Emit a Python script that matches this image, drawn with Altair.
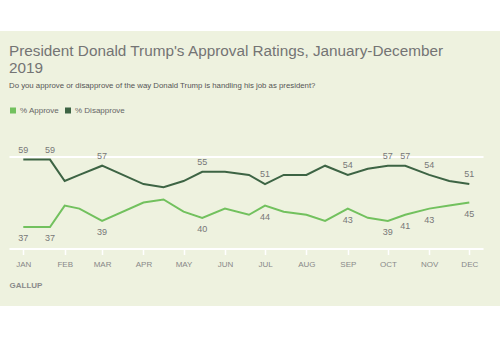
import altair as alt
import pandas as pd

# ---- data ----
dates = ["2019-01-01", "2019-01-21", "2019-02-01", "2019-02-12", "2019-03-01",
         "2019-04-01", "2019-04-16", "2019-05-01", "2019-05-15", "2019-06-01",
         "2019-06-19", "2019-07-01", "2019-07-15", "2019-08-01", "2019-08-15",
         "2019-09-01", "2019-09-16", "2019-10-01", "2019-10-14", "2019-11-01",
         "2019-11-16", "2019-12-01"]
approve = [37, 37, 44, 43, 39, 45, 46, 42, 40, 43, 41, 44, 42, 41, 39, 43, 40, 39, 41, 43, 44, 45]
disapprove = [59, 59, 52, 54, 57, 51, 50, 52, 55, 55, 54, 51, 54, 54, 57, 54, 56, 57, 57, 54, 52, 51]
labeled_dates = ["2019-01-01", "2019-01-21", "2019-03-01", "2019-05-15", "2019-07-01",
                 "2019-09-01", "2019-10-01", "2019-10-14", "2019-11-01", "2019-12-01"]
series_names = ["% Approve", "% Disapprove"]
series_colors = ["#72c15e", "#3d6444"]
month_ticks = list(range(1, 13))
y_grid = [30, 40, 50, 60]

title_lines = ["President Donald Trump's Approval Ratings, January-December", "2019"]
subtitle = "Do you approve or disapprove of the way Donald Trump is handling his job as president?"
source = "GALLUP"

rows = []
for d, a, s in zip(dates, approve, disapprove):
    rows.append({"date": d, "series": series_names[0], "value": a,
                 "label": str(a) if d in labeled_dates else ""})
    rows.append({"date": d, "series": series_names[1], "value": s,
                 "label": str(s) if d in labeled_dates else ""})
df = pd.DataFrame(rows)

BG = "#eef2df"
FONT = "Liberation Sans"

x_enc = alt.X(
    "date:T",
    scale=alt.Scale(type="utc",
                    domain=[alt.DateTime(year=2018, month=12, date=21, hours=7, utc=True),
                            alt.DateTime(year=2019, month=12, date=11, hours=6, utc=True)]),
    axis=alt.Axis(
        values=[alt.DateTime(year=2019, month=m, date=1, utc=True) for m in month_ticks],
        labelExpr="upper(utcFormat(datum.value, '%b'))",
        domain=False, grid=False,
        ticks=True, tickColor="white", tickSize=6, tickWidth=1.5,
        labelFont=FONT, labelFontSize=8, labelColor="#888888", labelPadding=6,
        title=source, titleFont=FONT, titleFontSize=8, titleFontWeight="bold",
        titleColor="#8a8a8a", titleX=0, titleY=37, titleAlign="left",
        titleBaseline="middle", titleAnchor="start",
    ),
)
y_enc = alt.Y(
    "value:Q",
    scale=alt.Scale(domain=[30, 60], zero=False, nice=False),
    axis=alt.Axis(values=y_grid, grid=True, gridColor="white", gridWidth=2,
                  labels=False, ticks=False, domain=False, title=None),
)
color_enc = alt.Color(
    "series:N",
    scale=alt.Scale(domain=series_names, range=series_colors),
    legend=alt.Legend(orient="none", legendX=0, legendY=-50, direction="horizontal",
                      title=None, symbolType="square", symbolSize=9,
                      symbolStrokeWidth=3, labelFont=FONT, labelFontSize=8,
                      labelColor="#666666", labelOffset=3, columnPadding=0,
                      gridAlign="none"),
)

base = alt.Chart(df)

lines = base.mark_line(strokeWidth=2).encode(x=x_enc, y=y_enc, color=color_enc)

labels_dis = base.transform_filter(
    (alt.datum.series == series_names[1]) & (alt.datum.label != "")
).mark_text(font=FONT, fontSize=9, color="#777777", dy=-10).encode(
    x=alt.X("date:T"), y=alt.Y("value:Q"), text="label:N")

labels_app = base.transform_filter(
    (alt.datum.series == series_names[0]) & (alt.datum.label != "")
).mark_text(font=FONT, fontSize=9, color="#777777", dy=11).encode(
    x=alt.X("date:T"), y=alt.Y("value:Q"), text="label:N")

band_df = pd.DataFrame({"k": [0]})
top_band = alt.Chart(band_df).mark_rect(color="white").encode(
    x=alt.value(-9), x2=alt.value(491), y=alt.value(-157), y2=alt.value(-125.5))
bottom_band = alt.Chart(band_df).mark_rect(color="white").encode(
    x=alt.value(-9), x2=alt.value(491), y=alt.value(149.5), y2=alt.value(182))

chart = alt.layer(lines, labels_dis, labels_app, top_band, bottom_band).properties(
    width=474, height=92,
    autosize=alt.AutoSizeParams(type="none"),
    padding={"left": 9, "top": 156.5, "right": 17, "bottom": 89.5},
    background=BG,
    title=alt.TitleParams(
        text=title_lines, subtitle=subtitle, anchor="start", frame="group",
        font=FONT, fontSize=15.3, fontWeight="normal", color="#747474", lineHeight=17,
        subtitleFont=FONT, subtitleFontSize=7.8, subtitleColor="#555555",
        subtitlePadding=5, offset=-90,
    ),
).configure_view(stroke=None)

chart.save("out.html", embed_options={"renderer": "svg", "actions": False})
